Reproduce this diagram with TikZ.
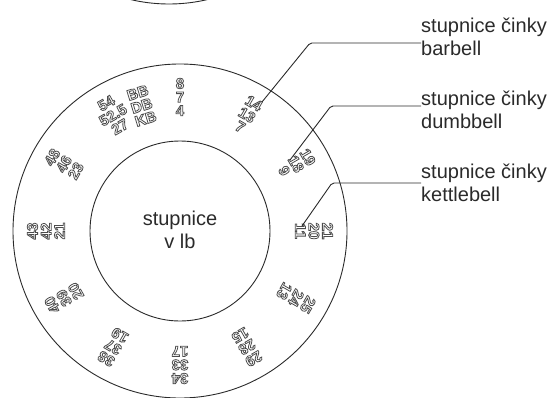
\documentclass[tikz,border=0pt]{standalone}
\usepackage{fontspec}
\setmainfont{Liberation Sans}
\newfontfamily\digitfont{Liberation Sans Bold}
\usetikzlibrary{calc}
\definecolor{lcol}{HTML}{2A2A2A}
\newcommand\olt[1]{\special{pdf:literal direct 2 Tr 0.8 w 1 1 1 rg 0.3 0.3 0.3 RG}#1\special{pdf:literal direct 0 Tr 0 0 0 rg 0 0 0 RG}}
\newcommand\dialtxt[3]{\olt{#1}\\\olt{#2}\\\olt{#3}}
\tikzset{
  dialnum/.style={font=\digitfont\fontsize{15}{13.6}\selectfont, align=center, inner sep=0pt},
  bigtxt/.style={font=\fontsize{20}{23}\selectfont, text=lcol, inner sep=0pt},
  ring/.style={draw=lcol, line width=0.9pt},
  leader/.style={draw=lcol, line width=0.9pt, rounded corners=2pt}
}
\begin{document}
\begin{tikzpicture}[x=1pt,y=-1pt]
\useasboundingbox (0,0) rectangle (553,398);
\clip (0,0) rectangle (553,398);
\coordinate (O) at (180,231);
\coordinate (T) at (169,-163);
\draw[ring] (T) circle[radius=167pt];
\draw[ring] (O) circle[radius=167pt];
\draw[ring] (O) circle[radius=90pt];
\node[bigtxt, align=center] (ctr) at (180,230) {stupnice\\v lb};
\foreach \ang/\a/\b/\c/\nm in {90/8/7/4/d1, 60/14/13/7/d2, 30/19/18/9/d3, 0/21/20/11/d4,
  -30/25/24/13/d5, -60/29/28/15/d6, -90/34/33/17/d7, -120/38/37/19/d8,
  -150/40/39/20/d9, 180/43/42/21/d10, 150/48/46/23/d11, 120/54/52.5/27/d12}{
  \node[dialnum, rotate=\ang-90] (\nm) at ($(O)+({134*cos(\ang)},{-134*sin(\ang)})$) {\dialtxt{\a}{\b}{\c}};
}
\node[dialnum, rotate=17] (key) at ($(O)+({131*cos(107)},{-131*sin(107)})$) {\dialtxt{BB}{DB}{KB}};
\node[bigtxt, align=left, anchor=west] (lab1) at (421,36.5) {stupnice činky\\barbell};
\node[bigtxt, align=left, anchor=west] (lab2) at (421,109.5) {stupnice činky\\dumbbell};
\node[bigtxt, align=left, anchor=west] (lab3) at (421,183) {stupnice činky\\kettlebell};
\coordinate (e1) at (262,102);
\coordinate (c1) at (310,43);
\coordinate (e2) at (290,160);
\coordinate (c2) at (331,106);
\coordinate (e3) at (302,226);
\coordinate (c3) at (332,183);
\draw[leader] (e1) -- (c1) -- (c1 -| lab1.west);
\draw[leader] (e2) -- (c2) -- (c2 -| lab2.west);
\draw[leader] (e3) -- (c3) -- (c3 -| lab3.west);
\end{tikzpicture}
\end{document}
